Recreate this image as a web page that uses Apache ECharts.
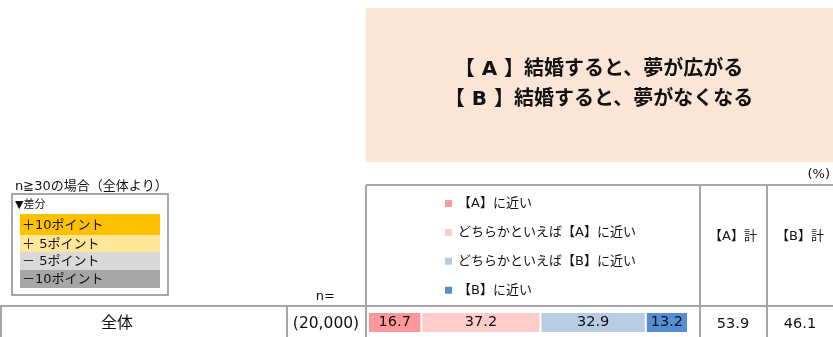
<!DOCTYPE html>
<html>
<head>
<meta charset="utf-8">
<script src="https://cdn.jsdelivr.net/npm/echarts@6/dist/echarts.min.js"></script>
<style>
  html, body { margin: 0; padding: 0; background: #fff; }
  #chart { width: 833px; height: 337px; }
</style>
</head>
<body>
<div id="chart"></div>
<script>
// data
const categories = ['全体'];
const sampleSizes = ['(20,000)'];
const seriesNames = ['【A】に近い', 'どちらかといえば【A】に近い', 'どちらかといえば【B】に近い', '【B】に近い'];
const aNear = [16.7];
const aSomewhat = [37.2];
const bSomewhat = [32.9];
const bNear = [13.2];
const titleLines = ['【 A 】結婚すると、夢が広がる', '【 B 】結婚すると、夢がなくなる'];
const diffLabels = ['＋10ポイント', '＋ 5ポイント', '－ 5ポイント', '－10ポイント'];
const totalHeaders = ['【A】計', '【B】計'];

const colors = ['#FF9999', '#FFCCCC', '#B8CCE4', '#558ED5'];
const diffColors = ['#FFC000', '#FFE699', '#D9D9D9', '#A6A6A6'];
const FONT = '"DejaVu Sans", "Noto Sans CJK JP", sans-serif';
const LINE = '#A6A6A6';
const INK = '#111';

const seriesData = [aNear, aSomewhat, bSomewhat, bNear];
const totalA = (aNear[0] + aSomewhat[0]).toFixed(1);
const totalB = (bSomewhat[0] + bNear[0]).toFixed(1);

const chart = echarts.init(document.getElementById('chart'));

function line(x1, y1, x2, y2) {
  return { type: 'line', shape: { x1, y1, x2, y2 }, style: { stroke: LINE, lineWidth: 2 }, silent: true };
}
function txt(x, y, text, size, align) {
  return { type: 'text', x, y, style: { text, font: size + 'px ' + FONT, fill: INK, align: align || 'left', verticalAlign: 'middle' }, silent: true };
}

const graphics = [
  // title box
  { type: 'rect', shape: { x: 366, y: 8, width: 467, height: 154 }, style: { fill: '#FBE5D6' }, silent: true },
  { type: 'text', x: 599, y: 70, style: { text: titleLines[0], font: 'bold 20px ' + FONT, fill: INK, align: 'center', verticalAlign: 'middle' }, silent: true },
  { type: 'text', x: 599, y: 100, style: { text: titleLines[1], font: 'bold 20px ' + FONT, fill: INK, align: 'center', verticalAlign: 'middle' }, silent: true },
  txt(15, 187, 'n≧30の場合（全体より）', 13),
  txt(830, 175, '(%)', 13, 'right'),
  txt(335, 297, 'n=', 13, 'right'),
  // diff legend box
  { type: 'rect', shape: { x: 12, y: 194, width: 156, height: 101 }, style: { fill: '#fff', stroke: LINE, lineWidth: 2 }, silent: true },
  txt(15, 205, '▼差分', 11)
];
diffLabels.forEach(function (lab, i) {
  const y0 = [214, 235, 252, 270][i];
  const h = [21, 17, 18, 18][i];
  graphics.push({ type: 'rect', shape: { x: 20, y: y0, width: 140, height: h }, style: { fill: diffColors[i] }, silent: true });
  graphics.push(txt(22, y0 + h / 2 + 1, lab, 13));
});
// table lines
graphics.push(
  line(366, 185, 833, 185),
  line(0, 306, 833, 306),
  line(366, 185, 366, 337),
  line(700, 185, 700, 337),
  line(767, 185, 767, 337),
  line(1, 306, 1, 337),
  line(287, 306, 287, 337),
  txt(733, 237, totalHeaders[0], 13, 'center'),
  txt(800, 237, totalHeaders[1], 13, 'center'),
  txt(117, 324, categories[0], 16, 'center'),
  txt(326, 324, sampleSizes[0], 15.5, 'center'),
  txt(733, 324, totalA, 14.5, 'center'),
  txt(800, 324, totalB, 14.5, 'center')
);

chart.setOption({
  animation: false,
  textStyle: { fontFamily: FONT },
  legend: {
    orient: 'vertical',
    left: 443,
    top: 197,
    padding: 0,
    icon: 'rect',
    itemWidth: 9,
    itemHeight: 9,
    itemGap: 15.9,
    selectedMode: false,
    textStyle: { fontSize: 13, color: INK, fontFamily: FONT },
    data: seriesNames
  },
  grid: { left: 368, top: 312, width: 320, height: 21 },
  xAxis: { type: 'value', min: 0, max: 100, show: false },
  yAxis: { type: 'category', data: categories, show: false },
  series: seriesNames.map(function (name, i) {
    return {
      name: name,
      type: 'bar',
      stack: 'total',
      barWidth: '100%',
      data: seriesData[i],
      itemStyle: { color: colors[i], borderColor: '#fff', borderWidth: 1 },
      label: { show: true, position: 'inside', color: INK, fontSize: 14.5, fontFamily: FONT, formatter: function (p) { return p.value.toFixed(1); } }
    };
  }),
  graphic: graphics
});
</script>
</body>
</html>
